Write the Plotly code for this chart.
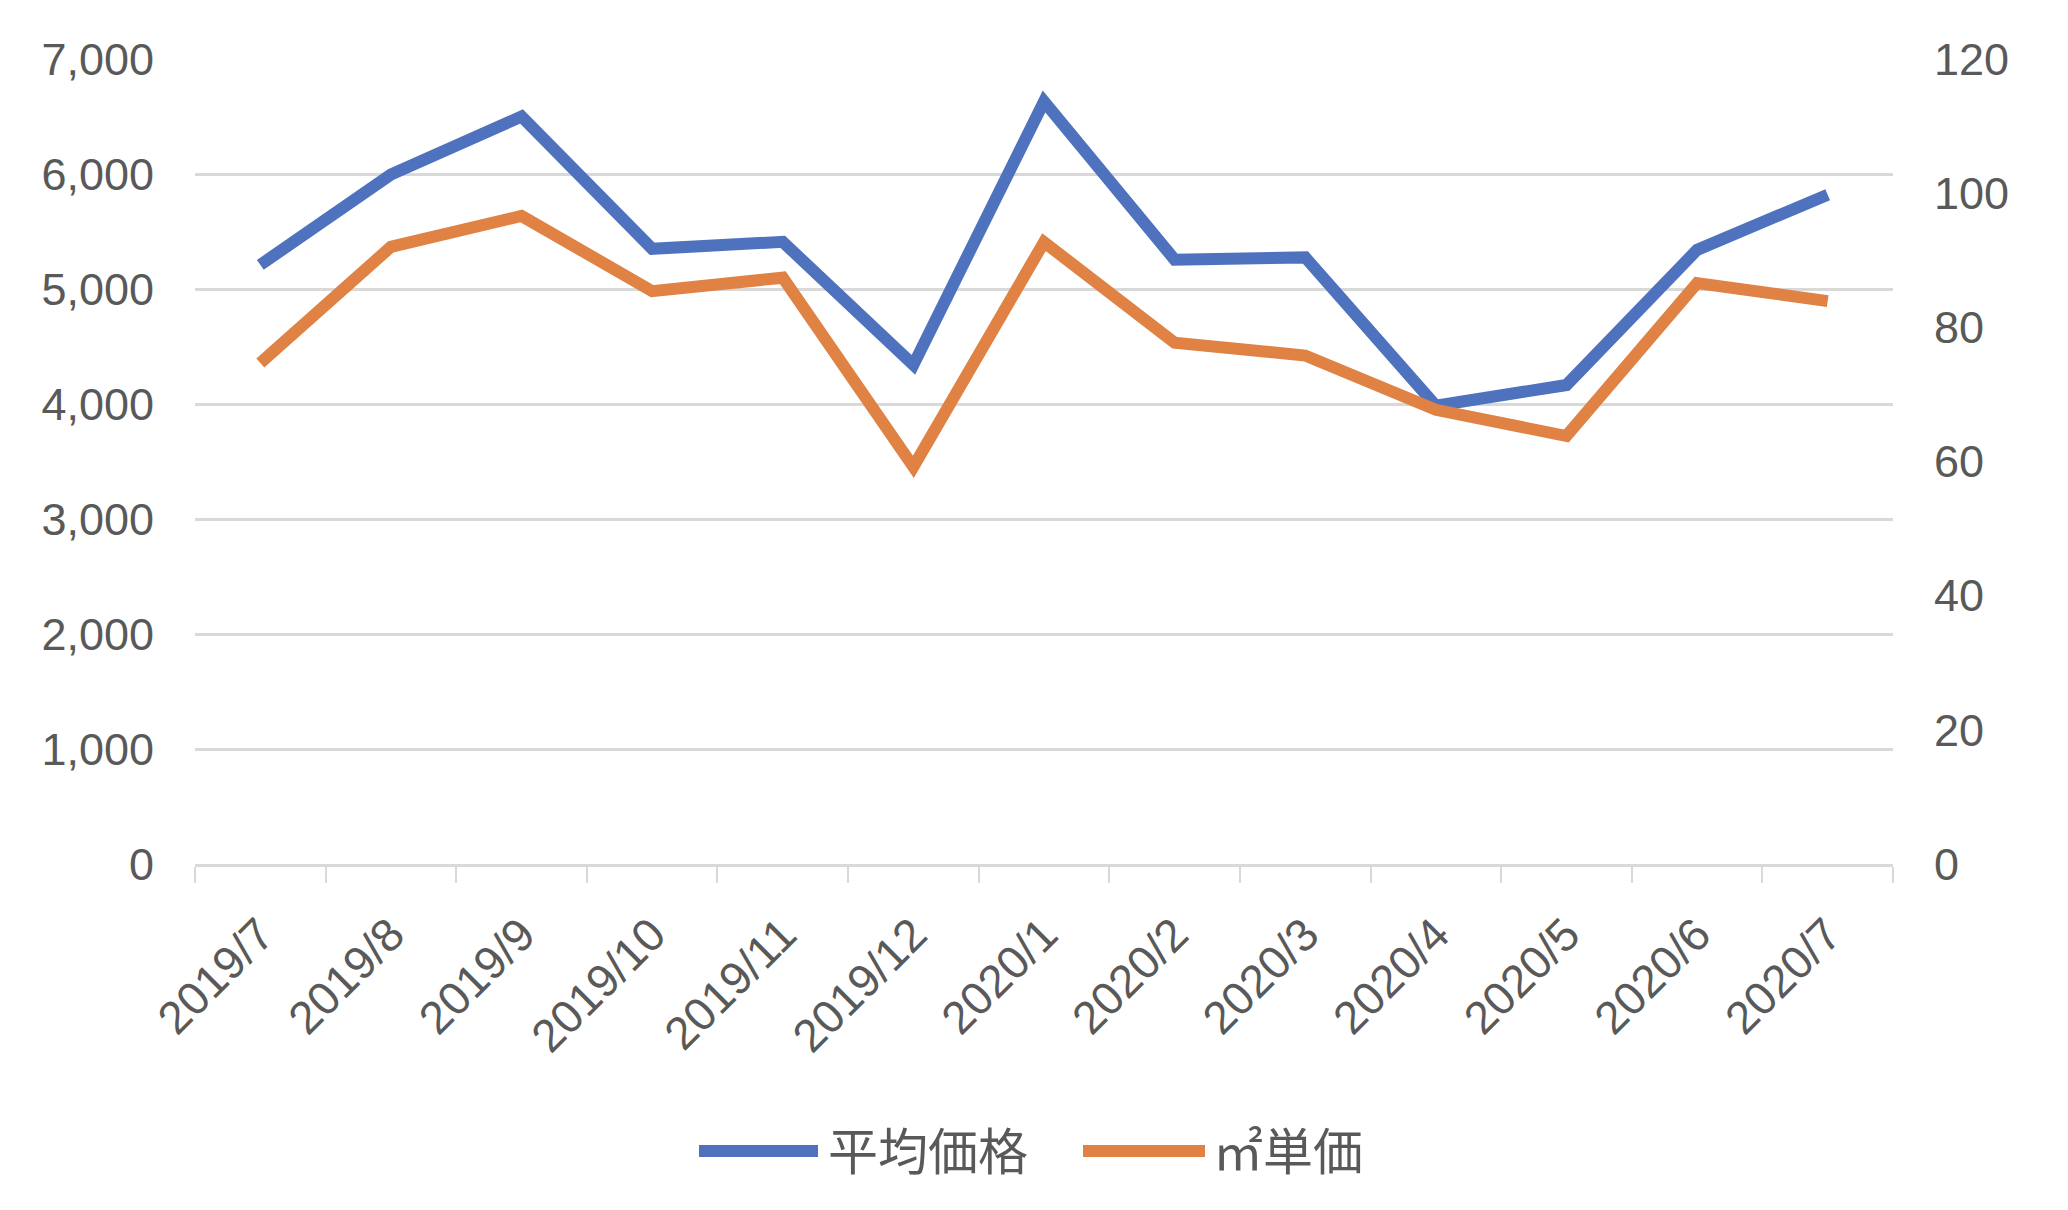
import plotly.graph_objects as go

months = ["2019/7", "2019/8", "2019/9", "2019/10", "2019/11", "2019/12",
          "2020/1", "2020/2", "2020/3", "2020/4", "2020/5", "2020/6", "2020/7"]
avg_price = [5210, 5995, 6500, 5350, 5410, 4340, 6630, 5255, 5275, 3985, 4165, 5340, 5820]
unit_price = [74.7, 92.0, 96.6, 85.4, 87.4, 59.2, 92.7, 77.7, 75.8, 67.7, 63.8, 86.6, 83.9]
name_avg = "平均価格"
name_unit = "㎡単価"

BLUE = "#4e72be"
ORANGE = "#df8244"
GRID = "#d9d9d9"
TXT = "#595959"
NUM_FONT = "Liberation Sans, Arial, sans-serif"
CJK_FONT = "Noto Sans CJK JP, sans-serif"

W, H = 2068, 1210
L, R, T, B = 195, 175, 59, 346
PW, PH = W - L - R, H - T - B

fig = go.Figure()
fig.add_trace(go.Scatter(x=months, y=avg_price, name=name_avg, mode="lines",
                         line=dict(color=BLUE, width=12), yaxis="y", showlegend=False))
fig.add_trace(go.Scatter(x=months, y=unit_price, name=name_unit, mode="lines",
                         line=dict(color=ORANGE, width=12), yaxis="y2", showlegend=False))

def px(x):
    return (x - L) / PW

def py(y):
    return (H - B - y) / PH

legend_items = [(name_avg, BLUE, 699, 818, 826), (name_unit, ORANGE, 1083, 1205, 1211)]
shapes = []
annotations = []
for name, col, x0, x1, xt in legend_items:
    shapes.append(dict(type="line", xref="paper", yref="paper",
                       x0=px(x0), x1=px(x1), y0=py(1151), y1=py(1151),
                       line=dict(color=col, width=12)))
    annotations.append(dict(text=name, xref="paper", yref="paper", x=px(xt), y=py(1148),
                            xanchor="left", yanchor="middle", showarrow=False,
                            font=dict(family=CJK_FONT, size=50, color=TXT)))

fig.update_layout(
    width=W, height=H,
    margin=dict(l=L, r=R, t=T, b=B, autoexpand=False),
    paper_bgcolor="white", plot_bgcolor="white",
    font=dict(family=NUM_FONT, color=TXT, size=44),
    xaxis=dict(type="category", range=[-0.5, len(months) - 0.5],
               tickson="boundaries", ticks="outside", ticklen=16,
               tickwidth=2, tickcolor=GRID, showline=True, linecolor=GRID, linewidth=3,
               showgrid=False, tickangle=-45, ticklabelstandoff=22,
               tickfont=dict(family=NUM_FONT, size=46, color=TXT)),
    yaxis=dict(range=[0, 7000], dtick=1000, tickformat=",", showgrid=True,
               gridcolor=GRID, gridwidth=3, zeroline=False, showline=False,
               ticks="", ticklabelstandoff=40,
               tickfont=dict(family=NUM_FONT, size=45, color=TXT)),
    yaxis2=dict(range=[0, 120], dtick=20, overlaying="y", side="right", showgrid=False,
                zeroline=False, showline=False, ticks="", ticklabelstandoff=40,
                tickfont=dict(family=NUM_FONT, size=45, color=TXT)),
    shapes=shapes,
    annotations=annotations,
)

fig.write_html("out.html")
